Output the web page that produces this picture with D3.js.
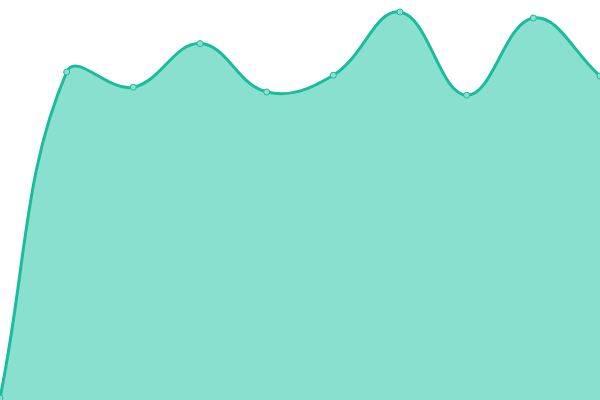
<!DOCTYPE html>
<html>
<head>
<meta charset="utf-8">
<script src="https://cdn.jsdelivr.net/npm/d3@7"></script>
<style>
  html, body { margin: 0; padding: 0; background: #fff; }
  svg { display: block; }
</style>
</head>
<body>
<svg id="chart"></svg>
<script>
// chart values
const categories = ["A", "B", "C", "D", "E", "F", "G", "H", "I", "J"];
const values = [0.5, 82, 78.2, 89.1, 77, 81.2, 97, 76.2, 95.5, 81];

const width = 600;
const height = 400;

const lineColor = "#1abc9c";
const fillColor = "#8ae0cf";
const tension = 0.4;

const svg = d3.select("#chart")
  .attr("width", width)
  .attr("height", height)
  .attr("viewBox", `0 0 ${width} ${height}`);

const x = d3.scalePoint()
  .domain(categories)
  .range([0, width]);

const y = d3.scaleLinear()
  .domain([0, 100])
  .range([height, 0]);

const pts = categories.map((c, i) => ({ c, v: values[i], x: x(c), y: y(values[i]) }));

// spline with distance-weighted control points, kept inside the plot
function controlPoints(points) {
  const clampX = v => Math.max(0, Math.min(width, v));
  const clampY = v => Math.max(0, Math.min(height, v));
  return points.map((p, i) => {
    const prev = points[i - 1] || p;
    const next = points[i + 1] || p;
    const d01 = Math.hypot(p.x - prev.x, p.y - prev.y);
    const d12 = Math.hypot(next.x - p.x, next.y - p.y);
    let s01 = d01 / (d01 + d12);
    let s12 = d12 / (d01 + d12);
    if (isNaN(s01)) s01 = 0;
    if (isNaN(s12)) s12 = 0;
    const fa = tension * s01;
    const fb = tension * s12;
    return {
      inX: clampX(p.x - fa * (next.x - prev.x)),
      inY: clampY(p.y - fa * (next.y - prev.y)),
      outX: clampX(p.x + fb * (next.x - prev.x)),
      outY: clampY(p.y + fb * (next.y - prev.y))
    };
  });
}

function splinePath(points, closeToBase) {
  const cps = controlPoints(points);
  const p = d3.path();
  p.moveTo(points[0].x, points[0].y);
  for (let i = 1; i < points.length; i++) {
    p.bezierCurveTo(cps[i - 1].outX, cps[i - 1].outY, cps[i].inX, cps[i].inY, points[i].x, points[i].y);
  }
  if (closeToBase) {
    p.lineTo(points[points.length - 1].x, y(0));
    p.lineTo(points[0].x, y(0));
    p.closePath();
  }
  return p.toString();
}

svg.append("path")
  .attr("d", splinePath(pts, true))
  .attr("fill", fillColor);

svg.append("path")
  .attr("d", splinePath(pts, false))
  .attr("fill", "none")
  .attr("stroke", lineColor)
  .attr("stroke-width", 3);

svg.selectAll("circle")
  .data(pts)
  .join("circle")
  .attr("cx", d => x(d.c))
  .attr("cy", d => y(d.v))
  .attr("r", 3)
  .attr("fill", fillColor)
  .attr("stroke", lineColor)
  .attr("stroke-width", 1);
</script>
</body>
</html>
